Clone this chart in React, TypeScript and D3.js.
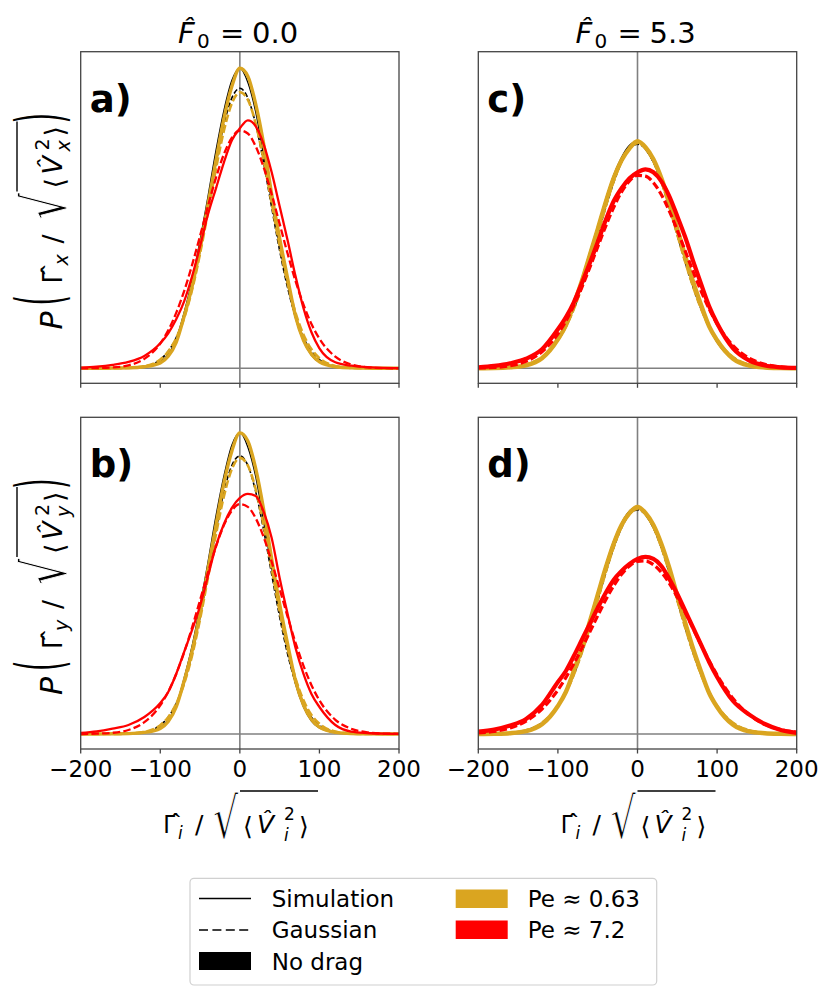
import * as d3 from 'd3';

// Shared x grid (Γ_i / sqrt(<V_i^2>)) for all curves
const xs = [-200, -180, -160, -140, -120, -100, -90, -80, -70, -60, -50, -40, -30, -20, -10, 0, 10, 20, 30, 40, 50, 60, 70, 80, 90, 100, 120, 140, 160, 180, 200];
const xTicks = [-200, -100, 0, 100, 200];

// Panel a) F0 = 0.0, x component
const blackSimA = [0, 0, 0.01, 0.03, 0.09, 0.33, 0.7, 1.45, 2.8, 4.4, 6.4, 8.6, 10.9, 12.9, 14.4, 15.0, 14.3, 12.8, 10.6, 8.3, 6.1, 4.2, 2.5, 1.35, 0.65, 0.3, 0.07, 0.02, 0, 0, 0];
const blackGaussA = [0, 0, 0, 0.02, 0.1, 0.44, 0.85, 1.53, 2.57, 4.03, 5.89, 8.04, 10.25, 12.19, 13.52, 14.0, 13.52, 12.19, 10.25, 8.04, 5.89, 4.03, 2.57, 1.53, 0.85, 0.44, 0.1, 0.02, 0, 0, 0];
const goldSimA = [0, 0, 0.01, 0.02, 0.08, 0.27, 0.6, 1.3, 2.6, 4.1, 6.0, 8.2, 10.4, 12.5, 14.1, 15.0, 14.6, 13.2, 11.2, 8.7, 6.5, 4.5, 2.6, 1.4, 0.7, 0.33, 0.08, 0.02, 0.01, 0, 0];
const goldGaussA = [0, 0, 0, 0.02, 0.1, 0.44, 0.84, 1.51, 2.52, 3.93, 5.74, 7.83, 9.98, 11.89, 13.25, 13.8, 13.43, 12.22, 10.39, 8.26, 6.14, 4.27, 2.77, 1.68, 0.95, 0.51, 0.12, 0.02, 0, 0, 0];
const redSimA = [0.03, 0.08, 0.17, 0.32, 0.62, 1.25, 1.75, 2.45, 3.35, 4.6, 6.1, 7.7, 9.0, 10.3, 11.4, 12.0, 12.4, 12.1, 11.2, 9.8, 8.1, 6.4, 4.6, 3.0, 1.8, 1.0, 0.3, 0.13, 0.06, 0.02, 0.01];
const redGaussA = [0, 0.01, 0.04, 0.15, 0.47, 1.24, 1.9, 2.77, 3.86, 5.17, 6.62, 8.12, 9.53, 10.71, 11.53, 11.89, 11.74, 11.09, 10.04, 8.7, 7.22, 5.74, 4.36, 3.18, 2.21, 1.48, 0.58, 0.19, 0.05, 0.01, 0];

// Panel b) F0 = 0.0, y component
const blackSimB = [0, 0, 0.01, 0.03, 0.09, 0.33, 0.7, 1.45, 2.8, 4.4, 6.4, 8.6, 10.9, 12.9, 14.45, 15.05, 14.35, 12.85, 10.6, 8.3, 6.1, 4.2, 2.5, 1.35, 0.65, 0.3, 0.07, 0.02, 0, 0, 0];
const blackGaussB = [0, 0, 0, 0.02, 0.1, 0.44, 0.84, 1.52, 2.55, 4.0, 5.85, 7.98, 10.18, 12.1, 13.43, 13.9, 13.43, 12.1, 10.18, 7.98, 5.85, 4.0, 2.55, 1.52, 0.84, 0.44, 0.1, 0.02, 0, 0, 0];
const goldSimB = [0, 0, 0.01, 0.02, 0.08, 0.28, 0.62, 1.35, 2.65, 4.15, 6.05, 8.25, 10.45, 12.55, 14.15, 15.05, 14.65, 13.25, 11.2, 8.75, 6.5, 4.5, 2.65, 1.45, 0.72, 0.34, 0.08, 0.02, 0.01, 0, 0];
const goldGaussB = [0, 0, 0, 0.02, 0.1, 0.44, 0.84, 1.51, 2.52, 3.93, 5.74, 7.83, 9.98, 11.89, 13.25, 13.8, 13.43, 12.22, 10.39, 8.26, 6.14, 4.27, 2.77, 1.68, 0.95, 0.51, 0.12, 0.02, 0, 0, 0];
const redSimB = [0.05, 0.13, 0.27, 0.45, 0.85, 1.55, 2.1, 3.0, 4.1, 5.2, 6.4, 7.9, 9.4, 10.5, 11.3, 11.8, 12.0, 11.9, 11.1, 9.8, 7.8, 6.0, 4.3, 3.0, 2.0, 1.35, 0.45, 0.12, 0.05, 0.02, 0.01];
const redGaussB = [0, 0.02, 0.06, 0.2, 0.59, 1.43, 2.11, 3.0, 4.08, 5.33, 6.69, 8.08, 9.37, 10.44, 11.17, 11.49, 11.35, 10.78, 9.83, 8.61, 7.25, 5.87, 4.56, 3.41, 2.44, 1.68, 0.71, 0.26, 0.08, 0.02, 0.01];

// Panel c) F0 = 5.3, x component
const blackSimC = [0, 0.01, 0.05, 0.16, 0.52, 1.5, 2.25, 3.3, 4.5, 5.8, 7.1, 8.45, 9.65, 10.55, 11.15, 11.35, 10.95, 10.3, 9.35, 8.15, 6.8, 5.45, 4.15, 3.0, 2.0, 1.3, 0.45, 0.13, 0.04, 0.01, 0];
const blackGaussC = [0, 0.01, 0.05, 0.19, 0.56, 1.4, 2.07, 2.95, 4.04, 5.29, 6.65, 8.03, 9.29, 10.3, 10.97, 11.2, 10.97, 10.3, 9.29, 8.03, 6.65, 5.29, 4.04, 2.95, 2.07, 1.4, 0.56, 0.19, 0.05, 0.01, 0];
const goldSimC = [0, 0.01, 0.05, 0.15, 0.5, 1.45, 2.15, 3.2, 4.35, 5.65, 6.95, 8.3, 9.5, 10.4, 11.0, 11.35, 11.05, 10.45, 9.5, 8.3, 6.95, 5.6, 4.3, 3.15, 2.1, 1.4, 0.48, 0.14, 0.04, 0.01, 0];
const goldGaussC = [0, 0.01, 0.05, 0.19, 0.56, 1.41, 2.08, 2.96, 4.06, 5.31, 6.68, 8.07, 9.33, 10.35, 11.02, 11.25, 11.02, 10.35, 9.33, 8.07, 6.68, 5.31, 4.06, 2.96, 2.08, 1.41, 0.56, 0.19, 0.05, 0.01, 0];
const redSimC = [0.05, 0.12, 0.25, 0.48, 0.95, 1.95, 2.55, 3.3, 4.25, 5.25, 6.3, 7.4, 8.35, 9.0, 9.5, 9.8, 9.95, 9.8, 9.35, 8.6, 7.6, 6.55, 5.35, 4.2, 3.1, 2.25, 1.0, 0.4, 0.14, 0.05, 0.02];
const redGaussC = [0.02, 0.04, 0.13, 0.35, 0.83, 1.72, 2.36, 3.14, 4.04, 5.03, 6.07, 7.1, 8.04, 8.82, 9.37, 9.65, 9.61, 9.28, 8.68, 7.86, 6.9, 5.86, 4.83, 3.85, 2.97, 2.22, 1.13, 0.51, 0.2, 0.07, 0.02];

// Panel d) F0 = 5.3, y component
const blackSimD = [0, 0.01, 0.05, 0.16, 0.5, 1.45, 2.2, 3.25, 4.45, 5.75, 7.1, 8.45, 9.65, 10.55, 11.15, 11.35, 10.95, 10.3, 9.35, 8.15, 6.75, 5.4, 4.1, 2.95, 1.95, 1.28, 0.44, 0.12, 0.04, 0.01, 0];
const blackGaussD = [0, 0.01, 0.05, 0.19, 0.56, 1.4, 2.07, 2.95, 4.04, 5.29, 6.65, 8.03, 9.29, 10.3, 10.97, 11.2, 10.97, 10.3, 9.29, 8.03, 6.65, 5.29, 4.04, 2.95, 2.07, 1.4, 0.56, 0.19, 0.05, 0.01, 0];
const goldSimD = [0, 0.01, 0.04, 0.14, 0.48, 1.4, 2.1, 3.15, 4.3, 5.6, 6.95, 8.3, 9.5, 10.45, 11.05, 11.35, 11.05, 10.45, 9.5, 8.3, 6.9, 5.55, 4.25, 3.1, 2.05, 1.35, 0.46, 0.13, 0.04, 0.01, 0];
const goldGaussD = [0, 0.01, 0.05, 0.19, 0.56, 1.41, 2.08, 2.96, 4.06, 5.31, 6.68, 8.07, 9.33, 10.35, 11.02, 11.25, 11.02, 10.35, 9.33, 8.07, 6.68, 5.31, 4.06, 2.96, 2.08, 1.41, 0.56, 0.19, 0.05, 0.01, 0];
const redSimD = [0.12, 0.22, 0.42, 0.75, 1.45, 2.6, 3.15, 3.9, 4.7, 5.5, 6.3, 7.05, 7.7, 8.15, 8.5, 8.75, 8.85, 8.75, 8.4, 7.75, 7.0, 6.15, 5.3, 4.45, 3.6, 2.85, 1.65, 0.98, 0.5, 0.2, 0.06];
const redGaussD = [0.05, 0.13, 0.3, 0.64, 1.25, 2.2, 2.82, 3.51, 4.28, 5.09, 5.91, 6.7, 7.4, 7.98, 8.4, 8.63, 8.65, 8.46, 8.08, 7.53, 6.84, 6.07, 5.26, 4.44, 3.66, 2.95, 1.77, 0.97, 0.48, 0.22, 0.09];

const columnTitles = ['0.0', '5.3'];
const legendLines = ['Simulation', 'Gaussian', 'No drag'];
const legendPe = ['Pe \u2248 0.63', 'Pe \u2248 7.2'];

const GOLD = '#DAA520';
const RED = '#FF0000';
const FONT = 'DejaVu Sans, Verdana, sans-serif';
const HAT_FONT = 'Noto Sans, DejaVu Sans, sans-serif';

const COLS = [
  { left: 80.7, right: 399 },
  { left: 478.3, right: 796.7 },
];
const ROWS = [
  { top: 51.7, bottom: 383.3 },
  { top: 417.3, bottom: 749 },
];

const panels = [
  { label: 'a)', col: 0, row: 0, noisy: false, series: [blackSimA, blackGaussA, goldSimA, goldGaussA, redSimA, redGaussA] },
  { label: 'b)', col: 0, row: 1, noisy: false, series: [blackSimB, blackGaussB, goldSimB, goldGaussB, redSimB, redGaussB] },
  { label: 'c)', col: 1, row: 0, noisy: true, series: [blackSimC, blackGaussC, goldSimC, goldGaussC, redSimC, redGaussC] },
  { label: 'd)', col: 1, row: 1, noisy: true, series: [blackSimD, blackGaussD, goldSimD, goldGaussD, redSimD, redGaussD] },
];

function seriesStyle(i: number, noisy: boolean) {
  switch (i) {
    case 0: return { stroke: '#000', width: 1.3, dash: undefined };
    case 1: return { stroke: '#000', width: 1.6, dash: '5,2.5' };
    case 2: return { stroke: GOLD, width: noisy ? 4.4 : 3.4, dash: undefined };
    case 3: return { stroke: GOLD, width: 2.6, dash: '8,3' };
    case 4: return { stroke: RED, width: noisy ? 4.2 : 2.3, dash: undefined };
    default: return { stroke: RED, width: noisy ? 3.2 : 2.3, dash: '7.5,3.2' };
  }
}

function Panel({ p }: { p: typeof panels[number] }) {
  const c = COLS[p.col];
  const r = ROWS[p.row];
  const x = d3.scaleLinear().domain([-200, 200]).range([c.left, c.right]);
  const y = d3.scaleLinear().domain([-0.75, 15.83]).range([r.bottom, r.top]);
  const line = d3
    .line<number>()
    .x((_, i) => x(xs[i]))
    .y((d) => y(d))
    .curve(d3.curveMonotoneX);
  const fmt = d3.format('d');

  return (
    <g>
      {/* zero lines */}
      <line x1={x(0)} x2={x(0)} y1={r.top} y2={r.bottom} stroke="#808080" strokeWidth={1.6} />
      <line x1={c.left} x2={c.right} y1={y(0)} y2={y(0)} stroke="#808080" strokeWidth={1.6} />

      {p.series.map((s, i) => {
        const st = seriesStyle(i, p.noisy);
        return (
          <path
            key={i}
            d={line(s) || ''}
            fill="none"
            stroke={st.stroke}
            strokeWidth={st.width}
            strokeDasharray={st.dash}
            strokeLinejoin="round"
          />
        );
      })}

      {/* frame */}
      <rect x={c.left} y={r.top} width={c.right - c.left} height={r.bottom - r.top} fill="none" stroke="#444" strokeWidth={1.3} />

      {/* x ticks */}
      {xTicks.map((t) => (
        <g key={t}>
          <line x1={x(t)} x2={x(t)} y1={r.bottom} y2={r.bottom + 4.5} stroke="#444" strokeWidth={1.3} />
          {p.row === 1 && (
            <text x={x(t)} y={777} textAnchor="middle" fontSize={23} fontFamily={FONT}>
              {fmt(t)}
            </text>
          )}
        </g>
      ))}

      <text x={c.left + 9} y={p.row === 0 ? 112 : 477} fontSize={37} fontWeight="bold" fontFamily={FONT}>
        {p.label}
      </text>
    </g>
  );
}

function YLabel({ cx, cy, sub }: { cx: number; cy: number; sub: string }) {
  return (
    <g transform={`translate(${cx},${cy}) rotate(-90)`} fontFamily={FONT} fontSize={27}>
      <text x={-112} y={0} fontSize={30} fontStyle="italic">P</text>
      <text transform="translate(-88,0) scale(1,2.35)">(</text>
      <text x={-66} y={0} fontFamily={HAT_FONT}>{'\u0393\u0302'}</text>
      <text x={-48} y={6} fontSize={19} fontStyle="italic">{sub}</text>
      <text x={-26} y={0}>/</text>
      <text transform="translate(-2,4) scale(0.95,1.36)" fontSize={44} stroke="#fff" strokeWidth={0.9}>{'\u221A'}</text>
      <line x1={26} x2={96} y1={-45} y2={-45} stroke="#000" strokeWidth={1.4} />
      <text x={29} y={2}>{'\u27E8'}</text>
      <text x={43} y={0} fontStyle="italic">{'V\u0302'}</text>
      <text x={67} y={-13} fontSize={19}>2</text>
      <text x={66} y={8} fontSize={19} fontStyle="italic">{sub}</text>
      <text x={81} y={2}>{'\u27E9'}</text>
      <text transform="translate(94,0) scale(1,2.35)">)</text>
    </g>
  );
}

function XLabel({ cx }: { cx: number }) {
  return (
    <g transform={`translate(${cx},833)`} fontFamily={FONT} fontSize={25}>
      <text x={-77} y={0} fontFamily={HAT_FONT}>{'\u0393\u0302'}</text>
      <text x={-62} y={6} fontSize={17} fontStyle="italic">i</text>
      <text x={-45} y={0}>/</text>
      <text transform="translate(-27,5) scale(0.95,1.36)" fontSize={42} stroke="#fff" strokeWidth={0.9}>{'\u221A'}</text>
      <line x1={0} x2={78} y1={-42} y2={-42} stroke="#000" strokeWidth={1.4} />
      <text x={3} y={2}>{'\u27E8'}</text>
      <text x={17} y={0} fontStyle="italic">{'V\u0302'}</text>
      <text x={44} y={-13} fontSize={17}>2</text>
      <text x={44} y={8} fontSize={17} fontStyle="italic">i</text>
      <text x={59} y={2}>{'\u27E9'}</text>
    </g>
  );
}

function Title({ cx, value }: { cx: number; value: string }) {
  return (
    <g transform={`translate(${cx},43.3)`} fontFamily={FONT} fontSize={29}>
      <text x={-62} y={0} fontStyle="italic">{'F\u0302'}</text>
      <text x={-43} y={5} fontSize={20}>0</text>
      <text x={-20} y={0}>=</text>
      <text x={12} y={0}>{value}</text>
    </g>
  );
}

function Legend() {
  const rowsY = [906.7, 938.2, 969.7];
  return (
    <g fontFamily={FONT} fontSize={23}>
      <rect x={190} y={878.3} width={466.7} height={106.7} rx={4} fill="#fff" stroke="#d0d0d0" strokeWidth={1.2} />
      <line x1={199} x2={251} y1={898.5} y2={898.5} stroke="#000" strokeWidth={1.6} />
      <line x1={199} x2={251} y1={930} y2={930} stroke="#000" strokeWidth={1.6} strokeDasharray="9,4.4" />
      <rect x={199} y={952} width={52} height={18} fill="#000" />
      {legendLines.map((t, i) => (
        <text key={t} x={271.7} y={rowsY[i]}>{t}</text>
      ))}
      <rect x={455.7} y={889.5} width={52} height={18.5} fill={GOLD} />
      <rect x={455.7} y={920.5} width={52} height={18.5} fill={RED} />
      {legendPe.map((t, i) => (
        <text key={t} x={527.7} y={rowsY[i]}>{t}</text>
      ))}
    </g>
  );
}

export default function App() {
  return (
    <div style={{ position: 'absolute', left: 0, top: 0 }}>
      <svg width={830} height={994} style={{ display: 'block', background: '#fff' }}>
        {panels.map((p) => (
          <Panel key={p.label} p={p} />
        ))}
        <Title cx={240} value={columnTitles[0]} />
        <Title cx={637.5} value={columnTitles[1]} />
        <YLabel cx={62} cy={217.5} sub="x" />
        <YLabel cx={62} cy={583} sub="y" />
        <XLabel cx={240} />
        <XLabel cx={637.5} />
        <Legend />
      </svg>
    </div>
  );
}
